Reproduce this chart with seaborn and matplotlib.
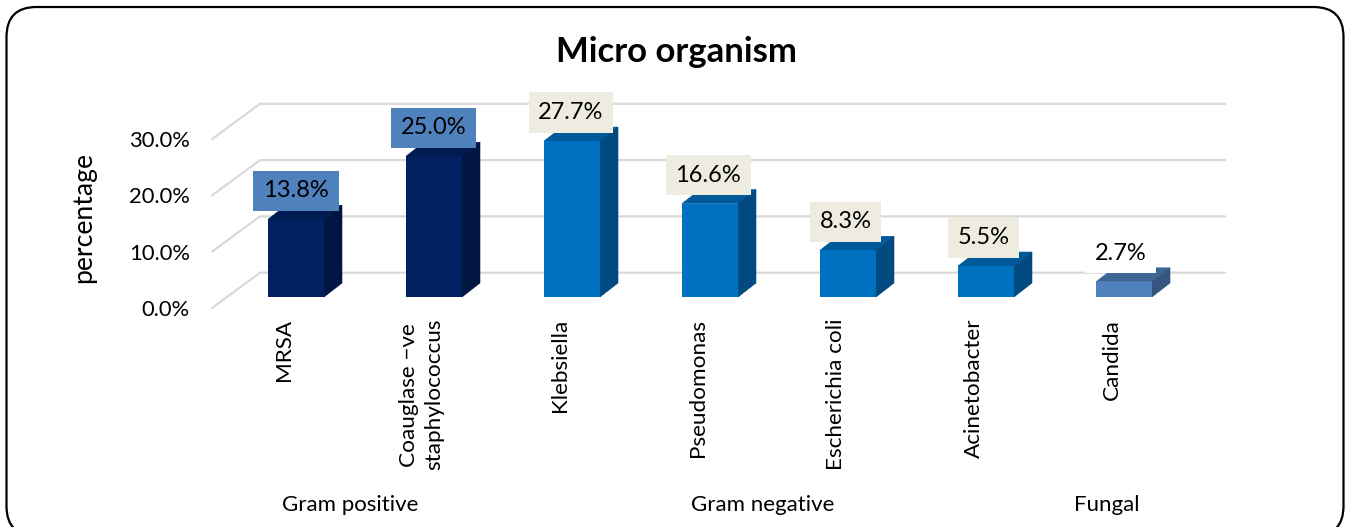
import matplotlib
matplotlib.use('Agg')
import matplotlib.pyplot as plt
import seaborn as sns
import pandas as pd
from matplotlib.patches import FancyBboxPatch, Polygon
from matplotlib.transforms import IdentityTransform, ScaledTranslation

# data
organisms = ['MRSA', 'Coauglase \u2212ve\nstaphylococcus', 'Klebsiella', 'Pseudomonas',
             'Escherichia coli', 'Acinetobacter', 'Candida']
percentages = [13.8, 25.0, 27.7, 16.6, 8.3, 5.5, 2.7]
groups = ['Gram positive', 'Gram negative', 'Fungal']
y_ticks = [0, 10, 20, 30]

# colours: front, side, top, label background
front_cols = ['#002060', '#002060', '#0070c0', '#0070c0', '#0070c0', '#0070c0', '#4f81bd']
side_cols = ['#001540', '#001540', '#004a80', '#004a80', '#004a80', '#004a80', '#34557f']
top_cols = ['#001b52', '#001b52', '#005a9a', '#005a9a', '#005a9a', '#005a9a', '#3d6694']
label_cols = ['#4f81bd', '#4f81bd', '#eeece1', '#eeece1', '#eeece1', '#eeece1', '#ffffff']

sns.set_style('white')
plt.rcParams['font.family'] = ['Lato', 'DejaVu Sans']

W, H = 1347, 527
PX = 72 / 100  # points per pixel at dpi 100
fig = plt.figure(figsize=(W / 100, H / 100), dpi=100)

# rounded frame, bottom edge runs just past the image
frame = FancyBboxPatch((6.5, -9), 1337, 529, boxstyle='round,pad=0,rounding_size=30',
                       transform=IdentityTransform(), fc='white', ec='black', lw=1.6,
                       clip_on=False, zorder=-1)
fig.add_artist(frame)

# axes placed in pixels, y=0 sits on the bar base
left, right, bottom, top = 212, 1225, 308, 100
ax = fig.add_axes([left / W, 1 - bottom / H, (right - left) / W, (bottom - top) / H])
ax.patch.set_alpha(0)

step = 138.0   # px per category
unit = 5.63    # px per percent
base_px = 297
center0 = 296

df = pd.DataFrame({'organism': organisms, 'percentage': percentages})
sns.barplot(data=df, x='organism', y='percentage', hue='organism', palette=front_cols,
            saturation=1, width=56 / step, legend=False, ax=ax, zorder=3, linewidth=0)

ax.set_xlim((left - center0) / step, (right - center0) / step)
ax.set_ylim((base_px - bottom) / unit, (base_px - top) / unit)
xmin, xmax = ax.get_xlim()

# floor / wall gridlines in fake 3d
drop = 11 / unit
rise = 24.3 / unit
xback = xmin + 48 / step
for t in y_ticks:
    ax.plot([xmin, xback, xmax], [t - drop, t + rise, t + rise], color='#d9d9d9', lw=1.6,
            zorder=1, solid_joinstyle='miter', clip_on=False)

# bar depth
dx = 18 / step
dy = 14 / unit
for bar, sc, tc in zip(list(ax.patches), side_cols, top_cols):
    x0, w, h = bar.get_x(), bar.get_width(), bar.get_height()
    ax.add_patch(Polygon([(x0, h), (x0 + dx, h + dy), (x0 + w + dx, h + dy), (x0 + w, h)],
                         fc=tc, ec=tc, lw=0.4, zorder=2.9))
    ax.add_patch(Polygon([(x0 + w, 0), (x0 + w + dx, dy), (x0 + w + dx, h + dy), (x0 + w, h)],
                         fc=sc, ec=sc, lw=0.4, zorder=2.95))

# value labels with filled boxes
for i, (v, c) in enumerate(zip(percentages, label_cols)):
    ax.annotate(f'{v:.1f}%', (i, v), xytext=(-0.55 * i * PX, 28.5 * PX), textcoords='offset points',
                ha='center', va='center', fontsize=17, color='black', zorder=5,
                bbox=dict(boxstyle='square,pad=0.41', fc=c, ec='none'))

# axis text
ax.set_yticks([t - drop for t in y_ticks])
ax.set_yticklabels([f'{t:.1f}%' for t in y_ticks], fontsize=15.8, color='black')
ax.tick_params(axis='y', length=0, pad=22 * PX)
ax.set_xticks(range(len(organisms)))
ax.set_xticklabels(organisms, rotation=90, fontsize=16.2, color='black', ha='center', va='top',
                   multialignment='center', linespacing=1.3)
ax.tick_params(axis='x', length=0, pad=11 * PX)
shift = ScaledTranslation(-12.5 / 100, 0, fig.dpi_scale_trans)
for lab in ax.get_xticklabels():
    lab.set_transform(lab.get_transform() + shift)
ax.set_xlabel('')
ax.set_ylabel('')
sns.despine(ax=ax, left=True, bottom=True)

fig.text(84 / W, 1 - 218 / H, 'percentage', rotation=90, ha='center', va='center', fontsize=19.2, color='black')
fig.text(676 / W, 1 - 52 / H, 'Micro organism', ha='center', va='center', fontsize=25, fontweight='bold', color='black')
for g, gx in zip(groups, [350, 763, 1107]):
    fig.text(gx / W, 1 - 505 / H, g, ha='center', va='center', fontsize=16, color='black')

fig.savefig('out.png', dpi=100)
